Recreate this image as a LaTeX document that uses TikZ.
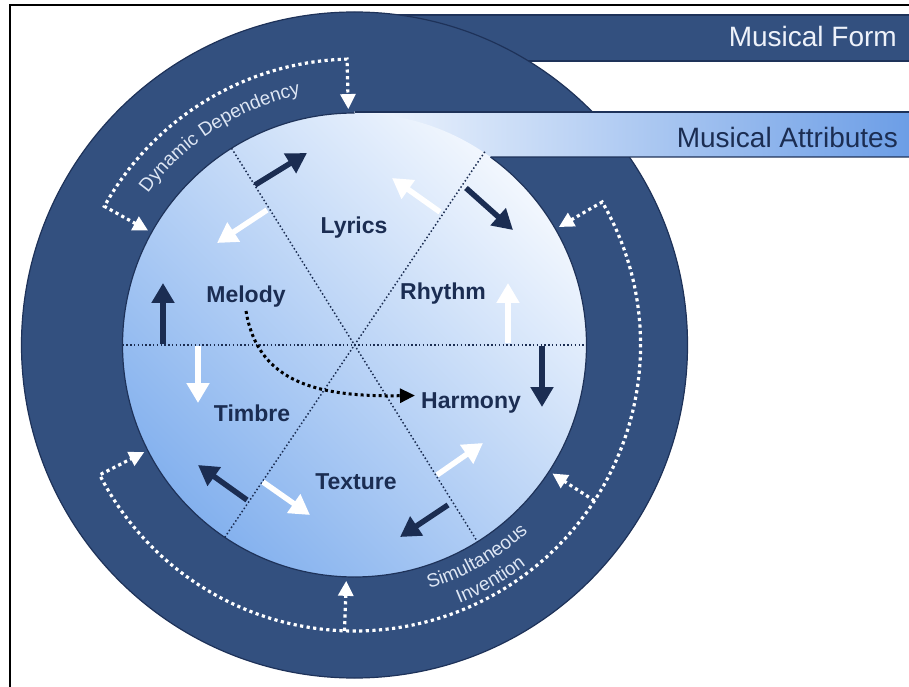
\documentclass[tikz,border=0pt]{standalone}
\usepackage{fontspec}
\setmainfont{Liberation Sans}
\usetikzlibrary{arrows.meta,calc,decorations.text}
\definecolor{ring}{HTML}{33507F}
\definecolor{ringline}{HTML}{1E3259}
\definecolor{navy}{HTML}{1B2D52}
\definecolor{disclight}{HTML}{F2F7FE}
\definecolor{discdark}{HTML}{84B1EE}
\definecolor{bandlight}{HTML}{F2F7FE}
\definecolor{bandblue}{HTML}{6B9DE6}
\definecolor{formtext}{HTML}{EEF2FA}
\definecolor{ringtext}{HTML}{DDE6F4}
\begin{document}
\begin{tikzpicture}[x=1pt,y=1pt,
  lbl/.style={font=\fontsize{23}{23}\selectfont\bfseries, text=navy, anchor=base, inner sep=0pt},
  bandtext/.style={font=\fontsize{28}{28}\selectfont, anchor=base east, inner sep=0pt},
  blockd/.style={line width=5.5pt, draw=navy, -{Triangle[width=22pt,length=20pt]}},
  blockw/.style={line width=5.5pt, draw=white, -{Triangle[width=22pt,length=20pt]}},
  divider/.style={draw=navy, line width=1.5pt, dash pattern=on 1.5pt off 2.3pt},
  wdot/.style={draw=white, line width=3.2pt, dash pattern=on 3.2pt off 3.4pt},
  wtip/.style={-{Triangle[width=15pt,length=15pt]}},
  edge/.style={draw=ringline, line width=1.2pt}]
\useasboundingbox (0,0) rectangle (909,686);
\coordinate (C) at (354.5,341);
% frame
\draw[line width=2.2pt, black] (10,-2) -- (10,681) -- (912,681);
% musical form band and outer ring
\filldraw[fill=ring, edge] (354.5,625) rectangle (914,671);
\filldraw[fill=ring, edge] (C) circle[radius=333];
% musical attributes band
\shade[left color=bandlight, right color=bandblue] (354.5,529) rectangle (914,574);
% inner disc
\shade[top color=disclight, bottom color=discdark, shading angle=-45] (C) circle[radius=232];
\draw[edge] ($(C)+(90:232)$) arc[start angle=90, end angle=414.1, radius=232];
\draw[edge] (354.5,574) -- (914,574);
\draw[edge] ($(C)+(54.1:232)$) -- (914,529);
% band texts
\node[bandtext, text=formtext] (form) at (897,639) {Musical Form};
\node[bandtext, text=navy] (attr) at (898,538) {Musical Attributes};
% dividers
\coordinate (h1) at ($(C)+(0:232)$);
\coordinate (h2) at ($(C)+(180:232)$);
\coordinate (d1) at ($(C)+(56:234)$);
\coordinate (d2) at ($(C)+(236:232)$);
\coordinate (e1) at ($(C)+(122:232)$);
\coordinate (e2) at ($(C)+(302:232)$);
\draw[divider] (h2) -- (h1);
\draw[divider] (d2) -- (d1);
\draw[divider] (e1) -- (e2);
% labels
\node[lbl] (lyrics) at (354,452) {Lyrics};
\node[lbl] (melody) at (246,383) {Melody};
\node[lbl] (rhythm) at (443,386) {Rhythm};
\node[lbl] (harmony) at (471,278) {Harmony};
\node[lbl] (timbre) at (252,265) {Timbre};
\node[lbl] (texture) at (356,197) {Texture};
% block arrows
\coordinate (a1dt) at (255,501); \coordinate (a1dh) at (307,533);
\coordinate (a1wt) at (267,476); \coordinate (a1wh) at (217,443);
\coordinate (a2wt) at (440,474); \coordinate (a2wh) at (392,508);
\coordinate (a2dt) at (466,498); \coordinate (a2dh) at (513,456);
\coordinate (a3wt) at (508,343); \coordinate (a3wh) at (508,403);
\coordinate (a3dt) at (542,340); \coordinate (a3dh) at (542,279);
\coordinate (a4dt) at (163,342); \coordinate (a4dh) at (163,403);
\coordinate (a4wt) at (198,340); \coordinate (a4wh) at (198,283);
\coordinate (a5wt) at (437,211); \coordinate (a5wh) at (483,243);
\coordinate (a5dt) at (448,181); \coordinate (a5dh) at (400,149);
\coordinate (a6dt) at (247,186); \coordinate (a6dh) at (198,221);
\coordinate (a6wt) at (263,204); \coordinate (a6wh) at (310,171);
\draw[blockd] (a1dt) -- (a1dh);
\draw[blockw] (a1wt) -- (a1wh);
\draw[blockw] (a2wt) -- (a2wh);
\draw[blockd] (a2dt) -- (a2dh);
\draw[blockw] (a3wt) -- (a3wh);
\draw[blockd] (a3dt) -- (a3dh);
\draw[blockd] (a4dt) -- (a4dh);
\draw[blockw] (a4wt) -- (a4wh);
\draw[blockw] (a5wt) -- (a5wh);
\draw[blockd] (a5dt) -- (a5dh);
\draw[blockd] (a6dt) -- (a6dh);
\draw[blockw] (a6wt) -- (a6wh);
% melody -> harmony dotted curve
\draw[black, line width=3pt, dash pattern=on 3pt off 3pt, -{Triangle[width=14pt,length=15pt]}]
  ([yshift=-3pt]melody.south) .. controls (258,302) and (320,289) .. ([xshift=-6pt,yshift=7pt]harmony.west);
% dynamic dependency connector
\coordinate (ddA) at ($(C)+(151:286)$);
\coordinate (ddAt) at ($(C)+(151:236)$);
\coordinate (ddB) at ($(C)+(91.5:286)$);
\coordinate (ddBt) at ($(C)+(91.5:236)$);
\draw[wdot, {Triangle[width=15pt,length=15pt]}-{Triangle[width=15pt,length=15pt]}]
  (ddAt) -- (ddA) arc[start angle=151, end angle=91.5, radius=286] -- (ddBt);
% simultaneous invention connector
\coordinate (siA) at ($(C)+(30:286)$);
\coordinate (siAt) at ($(C)+(30:236)$);
\coordinate (siB) at ($(C)+(-153:286)$);
\coordinate (siBt) at ($(C)+(-153:236)$);
\coordinate (siC) at ($(C)+(-33:286)$);
\coordinate (siCt) at ($(C)+(-33:236)$);
\coordinate (siD) at ($(C)+(-92:286)$);
\coordinate (siDt) at ($(C)+(-92:236)$);
\draw[wdot, {Triangle[width=15pt,length=15pt]}-{Triangle[width=15pt,length=15pt]}]
  (siAt) -- (siA) arc[start angle=30, end angle=-153, radius=286] -- (siBt);
\draw[wdot, wtip] (siC) -- (siCt);
\draw[wdot, wtip] (siD) -- (siDt);
% ring texts
\path[decorate, decoration={text along path, text align=center,
  text={|\fontsize{19}{19}\selectfont\color{ringtext}|Dynamic Dependency}}]
  ($(C)+(162:256)$) arc[start angle=162, end angle=84, radius=256];
\path[decorate, decoration={text along path, text align=center,
  text={|\fontsize{19}{19}\selectfont\color{ringtext}|Simultaneous}}]
  ($(C)+(-97:255)$) arc[start angle=-97, end angle=-23, radius=255];
\path[decorate, decoration={text along path, text align=center,
  text={|\fontsize{19}{19}\selectfont\color{ringtext}|Invention}}]
  ($(C)+(-97:279)$) arc[start angle=-97, end angle=-23, radius=279];
\end{tikzpicture}
\end{document}
